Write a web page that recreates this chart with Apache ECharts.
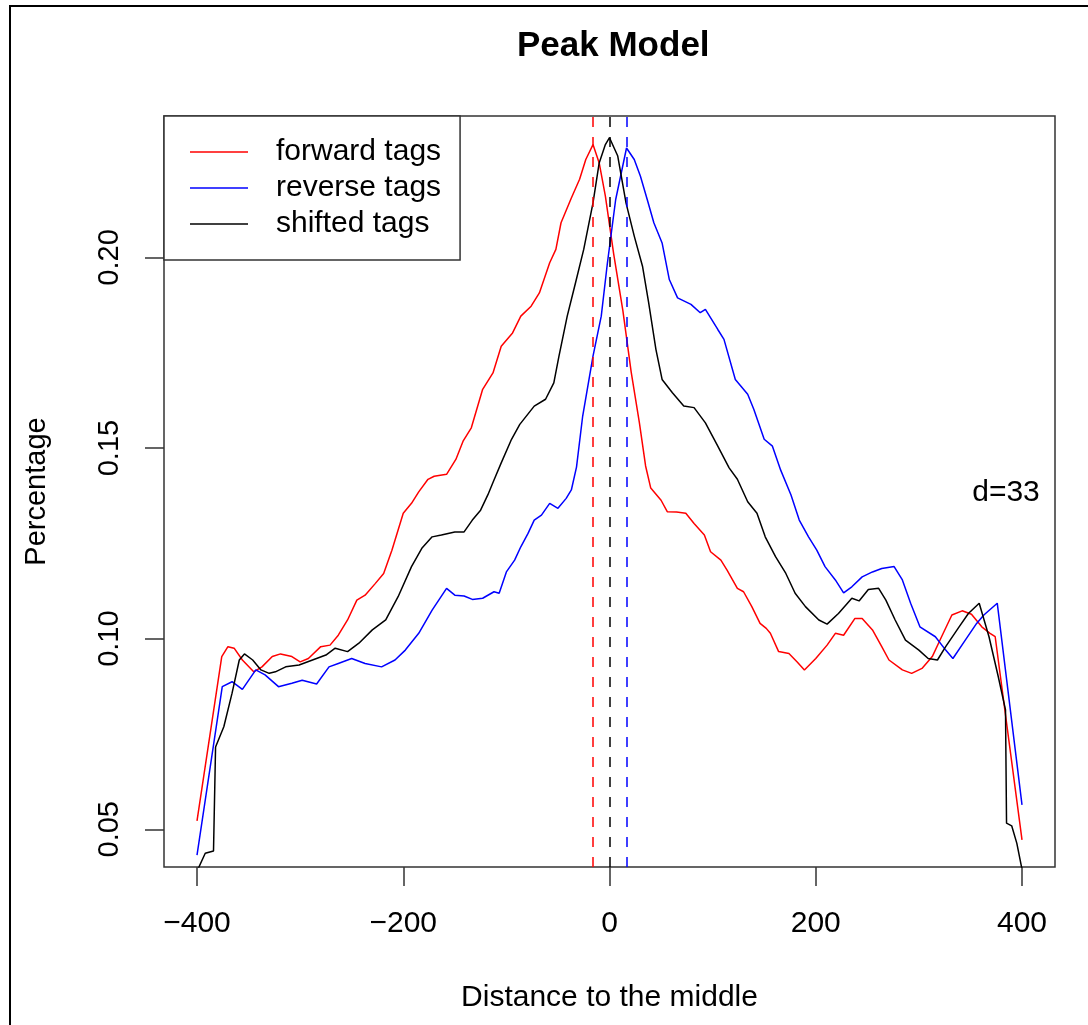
<!DOCTYPE html>
<html>
<head>
<meta charset="utf-8">
<script src="https://cdn.jsdelivr.net/npm/echarts@6/dist/echarts.min.js"></script>
<style>
html,body{margin:0;padding:0;background:#fff;}
#chart{width:1088px;height:1025px;}
</style>
</head>
<body>
<div id="chart"></div>
<script>
// ---- data ----
const title = 'Peak Model';
const xName = 'Distance to the middle';
const yName = 'Percentage';
const seriesNames = ['forward tags', 'reverse tags', 'shifted tags'];
const d = 33;
const xTicks = [-400, -200, 0, 200, 400];
const yTicks = [0.05, 0.10, 0.15, 0.20];

const forwardX = [-400,-376,-370,-364,-356,-345,-337,-327,-319,-308,-300,-292,-280,-271,-263,-254,-245,-237,-227,-219,-211,-200,-192,-185,-176,-170,-158,-149,-142,-134,-123,-113,-105,-94,-86,-76,-68,-58,-52,-47,-37,-29,-23,-16,-10,-4,4,13,21,29,35,40,50,56,65,74,82,92,98,108,114,124,130,138,146,152,156,164,174,182,189,200,211,219,227,238,245,255,264,271,284,293,303,313,322,332,342,351,361,369,374,400];
const forwardY = [0.0522,0.0953,0.0979,0.0975,0.0944,0.0913,0.0926,0.0953,0.0960,0.0953,0.0939,0.0948,0.0979,0.0983,0.1009,0.1049,0.1101,0.1114,0.1145,0.1171,0.1232,0.1329,0.1355,0.1385,0.1418,0.1426,0.1431,0.1470,0.1518,0.1553,0.1654,0.1697,0.1767,0.1802,0.1846,0.1872,0.1907,0.1986,0.2021,0.2091,0.2156,0.2205,0.2257,0.2296,0.2248,0.2161,0.2010,0.1860,0.1700,0.1566,0.1453,0.1395,0.1363,0.1333,0.1332,0.1329,0.1302,0.1272,0.1228,0.1206,0.1180,0.1132,0.1123,0.1084,0.1040,0.1027,0.1014,0.0966,0.0961,0.0939,0.0918,0.0948,0.0983,0.1014,0.1009,0.1053,0.1053,0.1023,0.0979,0.0944,0.0918,0.0909,0.0922,0.0953,0.1005,0.1062,0.1073,0.1064,0.1031,0.1014,0.1005,0.0472];

const reverseX = [-400,-375.5,-366,-356,-343,-334,-321,-308,-298,-284,-272,-263,-250,-237,-221,-208,-198,-185,-172,-158,-150,-141,-133,-123,-112,-107,-100,-92,-86,-79,-73,-66,-58,-50,-42,-37,-32,-26,-16,-8,-2,6,16.5,24,30,37,43,51,58,66,79,88,93,105,111,122,134,140,150,158,166,176,184,193,201,209,219,227,235,245,255,264,276,284,292,301,316,326,333,345,356,363,376,400];
const reverseY = [0.0432,0.0874,0.0887,0.0867,0.0918,0.0905,0.0874,0.0883,0.0891,0.0881,0.0926,0.0935,0.0948,0.0935,0.0926,0.0944,0.0970,0.1014,0.1075,0.1132,0.1114,0.1112,0.1103,0.1106,0.1123,0.1119,0.1175,0.1206,0.1241,0.1276,0.1311,0.1324,0.1355,0.1342,0.1368,0.1390,0.1450,0.1584,0.1741,0.1846,0.1986,0.2152,0.2287,0.2257,0.2213,0.2148,0.2091,0.2038,0.1942,0.1894,0.1877,0.1855,0.1864,0.1811,0.1785,0.1680,0.1641,0.1601,0.1523,0.1505,0.1442,0.1377,0.1311,0.1267,0.1232,0.1189,0.1154,0.1120,0.1136,0.1162,0.1175,0.1184,0.1189,0.1154,0.1093,0.1031,0.1005,0.0970,0.0948,0.0996,0.1040,0.1062,0.1093,0.0564];

const shiftedX = [-400,-392,-384,-382,-374,-366,-359,-354,-346,-338,-330,-324,-314,-301,-288,-275,-266,-254,-243,-230,-217,-205,-192,-182,-172,-163,-150,-141,-133,-125,-118,-112,-105,-95,-87,-73,-62,-54,-49,-41,-33,-25,-16,-10,-4,0,8,16,24,32,38,45,51,61,72,82,93,105,116,124,134,143,151,161,171,180,190,203,211,222,235,242,251,261,268,277,287,300,309,318,326,339,348,358.5,368,377,384,385,390,395,400];
const shiftedY = [0.0390,0.0437,0.0443,0.0716,0.0769,0.0857,0.0944,0.0960,0.0944,0.0918,0.0909,0.0913,0.0926,0.0931,0.0944,0.0957,0.0975,0.0966,0.0988,0.1023,0.1049,0.1110,0.1189,0.1237,0.1267,0.1272,0.1280,0.1280,0.1311,0.1337,0.1377,0.1416,0.1461,0.1523,0.1562,0.1610,0.1628,0.1671,0.1741,0.1846,0.1933,0.2021,0.2143,0.2248,0.2296,0.2314,0.2266,0.2143,0.2056,0.1977,0.1881,0.1759,0.1680,0.1645,0.1610,0.1606,0.1566,0.1505,0.1448,0.1418,0.1359,0.1329,0.1267,0.1215,0.1171,0.1119,0.1084,0.1049,0.1038,0.1066,0.1106,0.1099,0.1129,0.1132,0.1101,0.1049,0.0996,0.0970,0.0948,0.0944,0.0979,0.1031,0.1066,0.1093,0.1005,0.0900,0.0813,0.0516,0.0509,0.0463,0.0395];

// ---- chart ----
const FONT = '"Liberation Sans", Arial, Helvetica, sans-serif';
const colors = ['#ff0000', '#0000ff', '#000000'];
const xs = [forwardX, reverseX, shiftedX];
const ys = [forwardY, reverseY, shiftedY];
const peakPos = [-d / 2, d / 2, 0];

const chart = echarts.init(document.getElementById('chart'), null, {renderer: 'canvas'});

const series = seriesNames.map((name, i) => ({
  name: name,
  type: 'line',
  symbol: 'none',
  showSymbol: false,
  legendIcon: 'rect',
  data: xs[i].map((x, k) => [x, ys[i][k]]),
  lineStyle: {color: colors[i], width: 1.5},
  itemStyle: {color: colors[i]},
  z: 2 + i,
  animation: false,
  markLine: {
    silent: true,
    symbol: 'none',
    label: {show: false},
    animation: false,
    lineStyle: {color: colors[i], type: [10, 10], width: 1.5, opacity: 1},
    data: [{xAxis: peakPos[i]}]
  }
}));

chart.setOption({
  animation: false,
  backgroundColor: '#ffffff',
  title: {
    text: title,
    left: 512,
    top: 24,
    textStyle: {fontFamily: FONT, fontSize: 35, fontWeight: 'bold', color: '#000'}
  },
  grid: {
    left: 164, top: 116, width: 891, height: 751,
    show: true, borderColor: '#333', borderWidth: 1.5, backgroundColor: 'transparent'
  },
  legend: {
    data: seriesNames.map((n, i) => ({name: n, icon: 'rect', itemStyle: {color: colors[i]}})),
    orient: 'vertical',
    left: 164,
    top: 116,
    padding: [18, 19, 18, 26],
    itemGap: 0,
    itemWidth: 58,
    itemHeight: 1.6,
    borderColor: '#333',
    borderWidth: 1.5,
    borderRadius: 0,
    backgroundColor: '#fff',
    selectedMode: false,
    textStyle: {fontFamily: FONT, fontSize: 30, color: '#000', lineHeight: 36, padding: [0, 0, 0, 23]}
  },
  xAxis: {
    type: 'value',
    min: -432, max: 432,
    name: xName,
    nameLocation: 'middle',
    nameGap: 116,
    nameTextStyle: {fontFamily: FONT, fontSize: 30, color: '#000'},
    axisLine: {show: false},
    splitLine: {show: false},
    axisTick: {show: true, inside: false, length: 19, customValues: xTicks, lineStyle: {color: '#333', width: 1.5}},
    axisLabel: {show: true, margin: 42, customValues: xTicks, fontFamily: FONT, fontSize: 30, color: '#000',
      formatter: v => (v < 0 ? '\u2212' + Math.abs(v) : String(v))}
  },
  yAxis: {
    type: 'value',
    min: 0.0401, max: 0.2371,
    name: yName,
    nameLocation: 'middle',
    nameGap: 113,
    nameRotate: 90,
    nameTextStyle: {fontFamily: FONT, fontSize: 29, color: '#000'},
    axisLine: {show: false, onZero: false},
    splitLine: {show: false},
    axisTick: {show: true, inside: false, length: 19, customValues: yTicks, lineStyle: {color: '#333', width: 1.5}},
    axisLabel: {show: true, margin: 40, rotate: 90, customValues: yTicks, fontFamily: FONT, fontSize: 29, color: '#000',
      formatter: v => v.toFixed(2)}
  },
  graphic: [
    {type: 'polyline', silent: true, shape: {points: [[10, 1025], [10, 6], [1088, 6]]},
      style: {stroke: '#000', lineWidth: 2, fill: null}},
    {type: 'text', silent: true, x: 1006, y: 493,
      style: {text: 'd=' + d, fontFamily: FONT, fontSize: 30, fill: '#000', align: 'center', verticalAlign: 'middle'}}
  ],
  series: series
});
</script>
</body>
</html>
